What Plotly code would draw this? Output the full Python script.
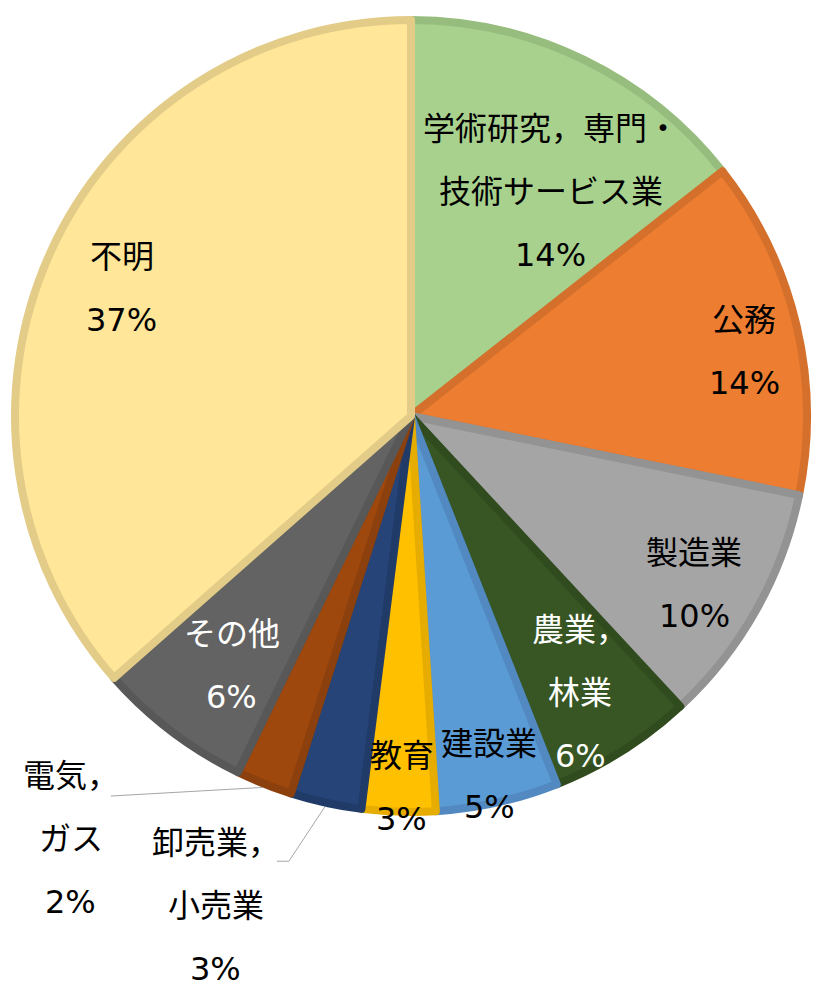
import math
import plotly.graph_objects as go

# data (share of respondents by industry, %)
industries = ['学術研究，専門・\n技術サービス業', '公務', '製造業', '農業，\n林業', '建設業',
              '教育', '卸売業，\n小売業', '電気，\nガス', 'その他', '不明']
shares = [14.4, 13.8, 9.9, 5.9, 5.0, 3.0, 2.9, 2.3, 6.3, 36.5]

fill_colors = ['#A9D18E', '#ED7D31', '#A5A5A5', '#375623', '#5B9BD5',
               '#FFC000', '#264478', '#9E480E', '#636363', '#FFE699']
edge_colors = ['#97BD7E', '#D4702B', '#939393', '#304C1F', '#5189C0',
               '#E6AD00', '#213B69', '#8C400D', '#585858', '#E2CC88']
text_colors = ['black', 'black', 'black', 'white', 'black',
               'black', 'black', 'black', 'white', 'black']

# label placement: (radius as fraction of pie radius, angle clockwise from 12 o'clock)
label_pos = [(0.66, 32.0), (0.848, 79.1), (0.823, 120.7), (0.811, 148.6), (0.919, 167.7),
             (0.928, 181.4), (1.319, 201.7), (1.357, 218.8), (0.767, 215.7), (0.79, 293.7)]
# leader lines for the outside labels: offsets (px) from label centre
leaders = {6: [(73, -45), (61, -45)], 7: [(40, -43)]}

PAGE_MARGIN = 8  # default body margin of the html page
W, H = 824 - PAGE_MARGIN, 1002 - PAGE_MARGIN
CX, CY, R = 411 - PAGE_MARGIN, 416 - PAGE_MARGIN, 400
LINE_GAP = 63
FONT = 'DejaVu Sans, Noto Sans CJK JP'


def to_paper(px, py):
    return px / W, 1 - py / H


def polar(r, ang):
    a = math.radians(ang)
    return CX + r * math.sin(a), CY - r * math.cos(a)


fig = go.Figure(go.Pie(
    labels=[s.replace('\n', '') for s in industries],
    values=shares,
    sort=False,
    direction='clockwise',
    rotation=0,
    textinfo='none',
    hoverinfo='label+percent',
    marker=dict(colors=fill_colors, line=dict(color=edge_colors, width=8)),
    domain=dict(x=[(CX - R + 4) / W, (CX + R - 4) / W],
                y=[1 - (CY + R - 4) / H, 1 - (CY - R + 4) / H]),
    showlegend=False,
))

total = sum(shares)
annotations = []
shapes = []
cum = 0
for i, (name, v) in enumerate(zip(industries, shares)):
    mid = (cum + v / 2) / total * 360
    cum += v
    pct = math.floor(v / total * 100 + 0.5)
    lines = name.split('\n') + [f'{pct}%']
    fr, ang = label_pos[i]
    lx, ly = polar(fr * R, ang)
    n = len(lines)
    for j, txt in enumerate(lines):
        x, y = to_paper(lx, ly + (j - (n - 1) / 2) * LINE_GAP)
        annotations.append(dict(x=x, y=y, xref='paper', yref='paper', text=txt,
                                showarrow=False, xanchor='center', yanchor='middle',
                                font=dict(family=FONT, size=32, color=text_colors[i])))
    if i in leaders:
        pts = [polar(R, mid)] + [(lx + dx, ly + dy) for dx, dy in leaders[i]]
        pts = [to_paper(*p) for p in pts]
        path = 'M ' + ' L '.join(f'{x},{y}' for x, y in pts)
        shapes.append(dict(type='path', path=path, xref='paper', yref='paper',
                           line=dict(color='#A6A6A6', width=1)))

fig.update_layout(
    width=W, height=H, autosize=False,
    margin=dict(l=0, r=0, t=0, b=0),
    paper_bgcolor='white', plot_bgcolor='white',
    annotations=annotations, shapes=shapes,
)

fig.write_html('out.html')
